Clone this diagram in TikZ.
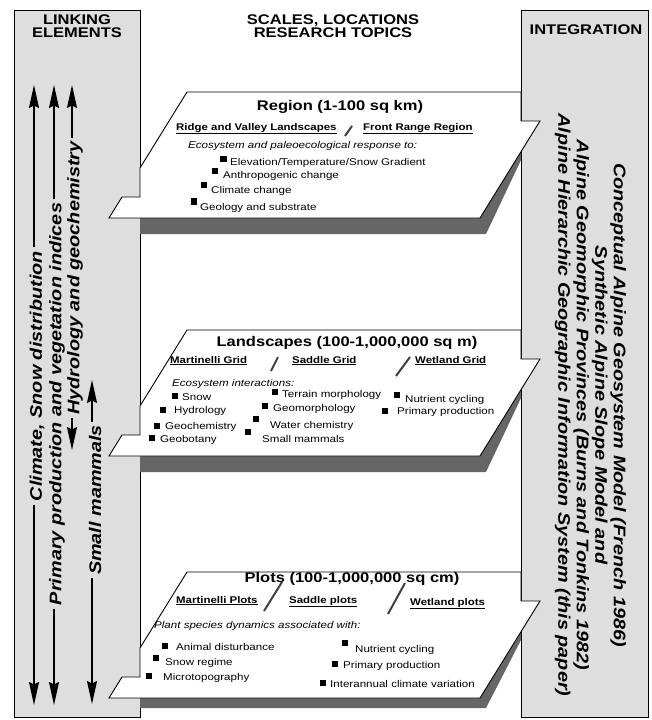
\documentclass[tikz,border=0pt]{standalone}
\usepackage{fontspec}
\setmainfont{Liberation Sans}[FakeStretch=1.18]
\usetikzlibrary{arrows.meta, positioning}

\begin{document}
\begin{tikzpicture}[
      x=1pt, y=-1pt,
      panel/.style={draw, fill=black!13, line width=0.9pt},
      sheet/.style={draw, fill=white, line width=0.9pt},
      shade/.style={fill=black!60},
      arrow/.style={-{Stealth[length=23pt, width=10pt, inset=2.5pt]}, line width=1.5pt},
      head/.style={font=\fontsize{14}{13}\selectfont\bfseries, align=center},
      title/.style={font=\fontsize{14}{16}\selectfont\bfseries, anchor=base, inner sep=0pt},
      site/.style={font=\fontsize{9.7}{11}\selectfont\bfseries, anchor=base west, inner sep=0pt},
      lead/.style={font=\fontsize{9.8}{11}\selectfont\itshape, anchor=base west, inner sep=0pt},
      item/.style={font=\fontsize{9.8}{11}\selectfont, anchor=base west, inner sep=0pt},
      bul/.style={fill=black, minimum size=6.5pt, inner sep=0pt},
      pen/.style={line width=2pt, black!75},
      link/.style={rotate=90, font=\fontsize{16.8}{18.5}\selectfont\bfseries\itshape},
      model/.style={rotate=-90, align=center, font=\fontsize{16.8}{18.5}\selectfont\bfseries\itshape}
    ]
    \useasboundingbox (0,0) rectangle (651,720);

    % Side panels
    \draw[panel] (14,10) rectangle (140,717);
    \draw[panel] (521,10) rectangle (648,717);

    % Shadows under the sheets
    \foreach \t/\d in {92/16, 330/16, 572/10}
      \fill[shade] (140,\t+126) -- (480,\t+126) -- (521,\t+60) -- (521,\t+68) -- (486,\t+126+\d) -- (140,\t+126+\d) -- cycle;

    % Sheets passing through the panels
    \foreach \t in {92, 330, 572}
      \draw[sheet] (140,\t+76) -- (187,\t) -- (521,\t) -- (521,\t+29) -- (540,\t+29) -- (480,\t+126) -- (109,\t+126) -- (122,\t+105) -- (140,\t+105) -- cycle;

    % Headings
    \node[head] (linkhead) at (77,26.5) {LINKING\\ELEMENTS};
    \node[head] (scalehead) at (333,26.5) {SCALES, LOCATIONS\\RESEARCH TOPICS};
    \node[head] (inthead) at (586,30) {INTEGRATION};

    % Region
    \node[title] (regtitle) at (340,110) {Region (1-100 sq km)};
    \node[site] (ridge) at (176,130) {\underline{Ridge and Valley Landscapes}};
    \node[site] (front) at (363,130) {\underline{Front Range Region}};
    \draw[pen] (352,126) -- (345,136);
    \node[lead] (reglead) at (188,148) {Ecosystem and paleoecological response to:};
    \node[item] (elev) at (230,165) {Elevation/Temperature/Snow Gradient};
    \node[item] (anthro) at (223,178) {Anthropogenic change};
    \node[item] (climch) at (211,193) {Climate change};
    \node[item] (geol) at (200,210) {Geology and substrate};
    \node[bul] (elevb) at (223.5,159) {};
    \node[bul] (anthrob) at (215,171) {};
    \node[bul] (climchb) at (204,185) {};
    \node[bul] (geolb) at (194,201.5) {};

    % Landscapes
    \node[title] (landtitle) at (347,346) {Landscapes (100-1,000,000 sq m)};
    \node[site] (margrid) at (170,363) {\underline{Martinelli Grid}};
    \node[site] (sadgrid) at (292,363) {\underline{Saddle Grid}};
    \node[site] (wetgrid) at (415,363) {\underline{Wetland Grid}};
    \draw[pen] (278,357) -- (271,371);
    \draw[pen] (410,357) -- (396,376);
    \node[lead] (landlead) at (172,386) {Ecosystem interactions:};
    \node[item] (snow) at (182,400) {Snow};
    \node[item] (hydrol) at (174,413) {Hydrology};
    \node[item] (geochem) at (165,429) {Geochemistry};
    \node[item] (geobot) at (160,442) {Geobotany};
    \node[item] (terrain) at (282,397) {Terrain morphology};
    \node[item] (geomorph) at (273,411) {Geomorphology};
    \node[item] (water) at (270,428) {Water chemistry};
    \node[item] (smallm) at (262,442) {Small mammals};
    \node[item] (nutr) at (405,402) {Nutrient cycling};
    \node[item] (primp) at (397,414) {Primary production};
    \node[bul] (snowb) at (175,396) {};
    \node[bul] (hydrolb) at (163,410) {};
    \node[bul] (geochemb) at (157,426) {};
    \node[bul] (geobotb) at (152,438) {};
    \node[bul] (terrainb) at (275,392) {};
    \node[bul] (geomorphb) at (265,406) {};
    \node[bul] (waterb) at (256,419) {};
    \node[bul] (smallmb) at (248,432) {};
    \node[bul] (nutrb) at (397,395) {};
    \node[bul] (primpb) at (385,411) {};

    % Plots
    \node[title] (plottitle) at (352,582) {Plots (100-1,000,000 sq cm)};
    \node[site] (marplot) at (176,603) {\underline{Martinelli Plots}};
    \node[site] (sadplot) at (289,603) {\underline{Saddle plots}};
    \node[site] (wetplot) at (410,605) {\underline{Wetland plots}};
    \draw[pen] (282,582) -- (264,611);
    \draw[pen] (405,583) -- (388,614);
    \node[lead] (plotlead) at (154,628) {Plant species dynamics associated with:};
    \node[item] (animal) at (176,650) {Animal disturbance};
    \node[item] (snowreg) at (165,665) {Snow regime};
    \node[item] (micro) at (163,680) {Microtopography};
    \node[item] (pnutr) at (355,652) {Nutrient cycling};
    \node[item] (pprim) at (343,668) {Primary production};
    \node[item] (inter) at (330,687) {Interannual climate variation};
    \node[bul] (animalb) at (165,646) {};
    \node[bul] (snowregb) at (156,658) {};
    \node[bul] (microb) at (149,676) {};
    \node[bul] (pnutrb) at (345,643) {};
    \node[bul] (pprimb) at (335,664) {};
    \node[bul] (interb) at (323,683) {};

    % Linking elements
    \node[link] (clim) at (37,376) {Climate, Snow distribution};
    \node[link] (prim) at (57,404) {Primary production and vegetation indices};
    \node[link] (hydro) at (75,278) {Hydrology and geochemistry};
    \node[link] (mamm) at (95,500) {Small mammals};
    \coordinate (climtop) at (34,85);
    \coordinate (climbot) at (34,705);
    \coordinate (primtop) at (54,85);
    \coordinate (primbot) at (54,705);
    \coordinate (hydrotop) at (72,85);
    \coordinate (hydrobot) at (72,450);
    \coordinate (mammtop) at (92,380);
    \coordinate (mammbot) at (92,704);
    \draw[arrow] (clim.east -| climtop) -- (climtop);
    \draw[arrow] (clim.west -| climbot) -- (climbot);
    \draw[arrow] (prim.east -| primtop) -- (primtop);
    \draw[arrow] (prim.west -| primbot) -- (primbot);
    \draw[arrow] (hydro.east -| hydrotop) -- (hydrotop);
    \draw[arrow] (hydro.west -| hydrobot) -- (hydrobot);
    \draw[arrow] (mamm.east -| mammtop) -- (mammtop);
    \draw[arrow] (mamm.west -| mammbot) -- (mammbot);

    % Integration
    \node[model] (models) at (590.5,405) {Conceptual Alpine Geosystem Model (French 1986)\\Synthetic Alpine Slope Model and\\Alpine Geomorphic Provinces (Burns and Tonkins 1982)\\Alpine Hierarchic Geographic Information System (this paper)};

\end{tikzpicture}
\end{document}
